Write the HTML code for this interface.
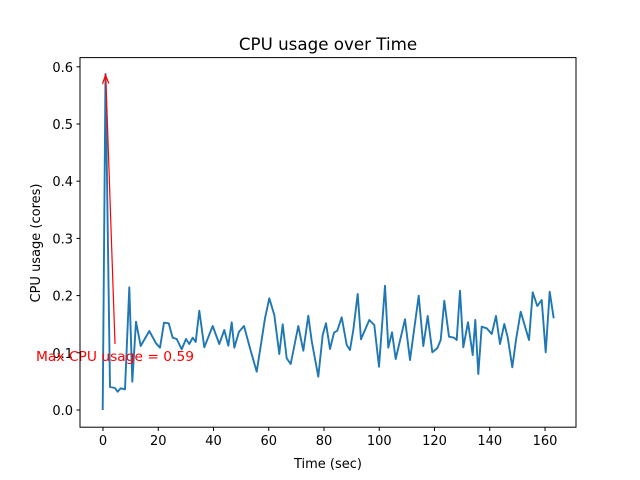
<!DOCTYPE html>
<html><head><meta charset="utf-8"><style>body{margin:0;background:#fff}svg{display:block;font-family:"DejaVu Sans","Liberation Sans",sans-serif}</style></head><body>
<svg width="640" height="480" viewBox="0 0 640 480" xmlns="http://www.w3.org/2000/svg">
<rect width="640" height="480" fill="#fff"/>
<text x="328" y="50" font-size="16.7" text-anchor="middle">CPU usage over Time</text>
<g stroke="#000" stroke-width="1">
<line x1="103" y1="427.5" x2="103" y2="431"/><line x1="158.25" y1="427.5" x2="158.25" y2="431"/><line x1="213.5" y1="427.5" x2="213.5" y2="431"/><line x1="268.75" y1="427.5" x2="268.75" y2="431"/><line x1="324" y1="427.5" x2="324" y2="431"/><line x1="379.25" y1="427.5" x2="379.25" y2="431"/><line x1="434.5" y1="427.5" x2="434.5" y2="431"/><line x1="489.75" y1="427.5" x2="489.75" y2="431"/><line x1="545" y1="427.5" x2="545" y2="431"/>
<line x1="76.5" y1="410" x2="80" y2="410"/><line x1="76.5" y1="352.8" x2="80" y2="352.8"/><line x1="76.5" y1="295.6" x2="80" y2="295.6"/><line x1="76.5" y1="238.4" x2="80" y2="238.4"/><line x1="76.5" y1="181.2" x2="80" y2="181.2"/><line x1="76.5" y1="124" x2="80" y2="124"/><line x1="76.5" y1="66.8" x2="80" y2="66.8"/>
</g>
<g font-size="13" text-anchor="middle">
<text x="103" y="445">0</text><text x="158.25" y="445">20</text><text x="213.5" y="445">40</text><text x="268.75" y="445">60</text><text x="324" y="445">80</text><text x="379.25" y="445">100</text><text x="434.5" y="445">120</text><text x="489.75" y="445">140</text><text x="545" y="445">160</text>
</g>
<g font-size="13" text-anchor="end">
<text x="73" y="415">0.0</text><text x="73" y="357.8">0.1</text><text x="73" y="300.6">0.2</text><text x="73" y="243.4">0.3</text><text x="73" y="186.2">0.4</text><text x="73" y="129">0.5</text><text x="73" y="71.8">0.6</text>
</g>
<text x="328" y="468" font-size="13" text-anchor="middle">Time (sec)</text>
<text transform="translate(40,243) rotate(-90)" font-size="13" text-anchor="middle">CPU usage (cores)</text>
<polyline fill="none" stroke="#1f77b4" stroke-width="1.9" stroke-linejoin="round" points="102.7,410 105.5,74 110,387 115,388 117.7,391.7 120.7,388.3 125,389.3 129.3,287.3 132.3,381.7 136,321.7 140.7,346 149.3,331 156,343.3 160,347.7 164,322.7 168.7,323.3 172.7,337.7 176.7,339 181.7,349.3 186,339 189.3,344 192.7,337.7 195.7,342 199.3,310.7 204.3,347.3 212.7,326 219.3,344 224.3,330 228.3,345.7 231.7,322.3 234.3,347.7 239,331.7 244,326 250,348.3 256.7,371.7 265,318.3 269.3,298.3 274.3,315 279.3,354 282.7,324.3 286.7,358.3 290.7,364 298.3,326 303.3,350.7 308.3,315.7 311.7,341 318.3,376.7 322.7,335 326,323.3 330,349 334,332.7 337.3,330.7 341.7,317.3 346.7,345 350,350 353.3,330 357.7,294 361,339.3 369.3,320 374.3,325 379,366.7 385,285.7 388.3,347.7 392,332.3 395.7,359 405,319.3 410,360 418.7,295.7 423.3,346 427.7,316 432.3,352.3 437.3,348.3 440.7,340 444.3,300.7 449,336.7 454,337.7 456.7,340 460,290.7 463.3,347.3 468,322.3 472.7,355 475.3,320 478.3,374 481.7,326.7 486.7,328.3 491.7,334 496,316 500,344 504.3,324 507.7,337.3 512.3,367.3 516,340 520.7,311.7 529,340 532.7,292.3 537.3,306 541.7,300 545.7,352.3 549.7,291.7 553.7,318.3"/>
<line x1="115" y1="344" x2="105.8" y2="77" stroke="red" stroke-width="1.2"/>
<polyline points="102.5,84 105.5,75 108.8,83.5" fill="none" stroke="red" stroke-width="1.2"/>
<text x="36" y="361" font-size="13" fill="red" textLength="158" lengthAdjust="spacingAndGlyphs">Max CPU usage = 0.59</text>
<rect x="80" y="57.6" width="496" height="369.6" fill="none" stroke="#000" stroke-width="1"/>
</svg>
</body></html>
